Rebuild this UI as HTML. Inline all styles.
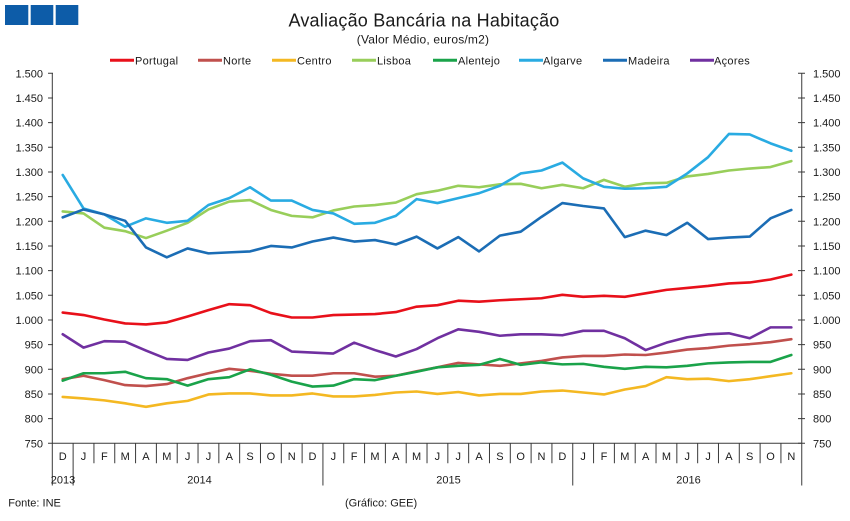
<!DOCTYPE html>
<html><head><meta charset="utf-8"><style>
html,body{margin:0;padding:0;background:#fff;}
svg{display:block;}
text{font-family:"Liberation Sans",Arial,sans-serif;fill:#1a1a1a;}
.ax{font-size:11px;}
.ln{fill:none;stroke-width:2.6;stroke-linejoin:round;stroke-linecap:round;vector-effect:non-scaling-stroke;}
</style></head><body>
<svg width="850" height="521" viewBox="0 0 850 521" xmlns="http://www.w3.org/2000/svg">
<rect width="850" height="521" fill="#fff"/>
<!-- logo -->
<rect x="5" y="5" width="23.3" height="20" fill="#0D5CA8"/>
<rect x="30.7" y="5" width="22.6" height="20" fill="#0D5CA8"/>
<rect x="55.7" y="5" width="22.6" height="20" fill="#0D5CA8"/>
<!-- titles -->
<text x="424" y="26.7" font-size="18" text-anchor="middle" letter-spacing="0.2">Avaliação Bancária na Habitação</text>
<text x="423" y="43.3" font-size="12" text-anchor="middle" letter-spacing="0.2">(Valor Médio, euros/m2)</text>
<!-- legend -->
<g font-size="11" letter-spacing="0.3">
<line x1="110" y1="60.3" x2="134" y2="60.3" stroke="#E8101A" stroke-width="3"/><text x="135" y="64.5">Portugal</text>
<line x1="198" y1="60.3" x2="222" y2="60.3" stroke="#C0504D" stroke-width="3"/><text x="223" y="64.5">Norte</text>
<line x1="272" y1="60.3" x2="296" y2="60.3" stroke="#F4B822" stroke-width="3"/><text x="297" y="64.5">Centro</text>
<line x1="352" y1="60.3" x2="376" y2="60.3" stroke="#98CE5A" stroke-width="3"/><text x="377" y="64.5">Lisboa</text>
<line x1="433" y1="60.3" x2="457" y2="60.3" stroke="#1AA34A" stroke-width="3"/><text x="458" y="64.5">Alentejo</text>
<line x1="519" y1="60.3" x2="543" y2="60.3" stroke="#29ABE2" stroke-width="3"/><text x="543" y="64.5">Algarve</text>
<line x1="603" y1="60.3" x2="627" y2="60.3" stroke="#1B6DB5" stroke-width="3"/><text x="628" y="64.5">Madeira</text>
<line x1="690" y1="60.3" x2="714" y2="60.3" stroke="#7030A0" stroke-width="3"/><text x="714" y="64.5">Açores</text>
</g>
<!-- axes -->
<g stroke="#3a3a3a" stroke-width="1" fill="none">
<path d="M52.3,73.3V485.5M801.75,73.3V485.5M52.3,443.3H801.75"/>
<path d="M48,73.3H53M48,98H53M48,122.6H53M48,147.3H53M48,172H53M48,196.6H53M48,221.3H53M48,246H53M48,270.6H53M48,295.3H53M48,320H53M48,344.6H53M48,369.3H53M48,394H53M48,418.6H53M48,443.3H53"/>
<path d="M798,73.3H805M798,98H805M798,122.6H805M798,147.3H805M798,172H805M798,196.6H805M798,221.3H805M798,246H805M798,270.6H805M798,295.3H805M798,320H805M798,344.6H805M798,369.3H805M798,394H805M798,418.6H805M798,443.3H805"/>
<path d="M73.12,443.3V485.5M322.93,443.3V485.5M572.75,443.3V485.5"/>
<path d="M93.94,443.3V463.3M114.75,443.3V463.3M135.57,443.3V463.3M156.39,443.3V463.3M177.21,443.3V463.3M198.03,443.3V463.3M218.84,443.3V463.3M239.66,443.3V463.3M260.48,443.3V463.3M281.3,443.3V463.3M302.12,443.3V463.3M343.75,443.3V463.3M364.57,443.3V463.3M385.39,443.3V463.3M406.21,443.3V463.3M427.02,443.3V463.3M447.84,443.3V463.3M468.66,443.3V463.3M489.48,443.3V463.3M510.3,443.3V463.3M531.11,443.3V463.3M551.93,443.3V463.3M593.57,443.3V463.3M614.39,443.3V463.3M635.2,443.3V463.3M656.02,443.3V463.3M676.84,443.3V463.3M697.66,443.3V463.3M718.48,443.3V463.3M739.29,443.3V463.3M760.11,443.3V463.3M780.93,443.3V463.3"/>
</g>
<!-- y labels left -->
<g class="ax" text-anchor="end">
<text x="43" y="77.3">1.500</text><text x="43" y="102">1.450</text><text x="43" y="126.6">1.400</text><text x="43" y="151.3">1.350</text>
<text x="43" y="176">1.300</text><text x="43" y="200.6">1.250</text><text x="43" y="225.3">1.200</text><text x="43" y="250">1.150</text>
<text x="43" y="274.6">1.100</text><text x="43" y="299.3">1.050</text><text x="43" y="324">1.000</text><text x="43" y="348.6">950</text>
<text x="43" y="373.3">900</text><text x="43" y="398">850</text><text x="43" y="422.6">800</text><text x="43" y="447.3">750</text>
</g>
<!-- y labels right -->
<g class="ax" text-anchor="start">
<text x="813" y="77.3">1.500</text><text x="813" y="102">1.450</text><text x="813" y="126.6">1.400</text><text x="813" y="151.3">1.350</text>
<text x="813" y="176">1.300</text><text x="813" y="200.6">1.250</text><text x="813" y="225.3">1.200</text><text x="813" y="250">1.150</text>
<text x="813" y="274.6">1.100</text><text x="813" y="299.3">1.050</text><text x="813" y="324">1.000</text><text x="813" y="348.6">950</text>
<text x="813" y="373.3">900</text><text x="813" y="398">850</text><text x="813" y="422.6">800</text><text x="813" y="447.3">750</text>
</g>
<!-- category labels -->
<g class="ax" text-anchor="middle">
<text x="62.71" y="460">D</text>
<text x="83.53" y="460">J</text><text x="104.35" y="460">F</text><text x="125.16" y="460">M</text><text x="145.98" y="460">A</text><text x="166.8" y="460">M</text><text x="187.62" y="460">J</text><text x="208.44" y="460">J</text><text x="229.25" y="460">A</text><text x="250.07" y="460">S</text><text x="270.89" y="460">O</text><text x="291.71" y="460">N</text><text x="312.53" y="460">D</text>
<text x="333.34" y="460">J</text><text x="354.16" y="460">F</text><text x="374.98" y="460">M</text><text x="395.8" y="460">A</text><text x="416.62" y="460">M</text><text x="437.43" y="460">J</text><text x="458.25" y="460">J</text><text x="479.07" y="460">A</text><text x="499.89" y="460">S</text><text x="520.71" y="460">O</text><text x="541.52" y="460">N</text><text x="562.34" y="460">D</text>
<text x="583.16" y="460">J</text><text x="603.98" y="460">F</text><text x="624.8" y="460">M</text><text x="645.61" y="460">A</text><text x="666.43" y="460">M</text><text x="687.25" y="460">J</text><text x="708.07" y="460">J</text><text x="728.89" y="460">A</text><text x="749.7" y="460">S</text><text x="770.52" y="460">O</text><text x="791.34" y="460">N</text>
<text x="63" y="483.5">2013</text><text x="199.5" y="483.5">2014</text><text x="448.5" y="483.5">2015</text><text x="688.5" y="483.5">2016</text>
</g>
<!-- footer -->
<text x="8.3" y="506.5" font-size="11">Fonte: INE</text>
<text x="345" y="506.5" font-size="11">(Gráfico: GEE)</text>
<!-- data -->
<g transform="translate(62.71,813.3) scale(20.818,-0.49333)">
<polyline class="ln" stroke="#E8101A" points="0,1015 1,1010 2,1001 3,993 4,991 5,995 6,1007 7,1020 8,1032 9,1030 10,1014 11,1005 12,1005 13,1010 14,1011 15,1012 16,1016 17,1027 18,1030 19,1039 20,1037 21,1040 22,1042 23,1044 24,1051 25,1047 26,1049 27,1047 28,1054 29,1061 30,1065 31,1069 32,1074 33,1076 34,1082 35,1092"/>
<polyline class="ln" stroke="#C0504D" points="0,880 1,887 2,878 3,868 4,866 5,870 6,882 7,892 8,901 9,897 10,891 11,887 12,887 13,892 14,892 15,885 16,887 17,896 18,904 19,913 20,910 21,907 22,912 23,917 24,924 25,927 26,927 27,930 28,929 29,934 30,940 31,943 32,948 33,951 34,955 35,961"/>
<polyline class="ln" stroke="#F4B822" points="0,844 1,841 2,837 3,831 4,824 5,831 6,836 7,849 8,851 9,851 10,847 11,847 12,851 13,845 14,845 15,848 16,853 17,855 18,850 19,854 20,847 21,850 22,850 23,855 24,857 25,853 26,849 27,859 28,866 29,884 30,880 31,881 32,876 33,880 34,886 35,892"/>
<polyline class="ln" stroke="#98CE5A" points="0,1220 1,1216 2,1187 3,1180 4,1166 5,1181 6,1197 7,1224 8,1240 9,1243 10,1223 11,1211 12,1208 13,1222 14,1230 15,1233 16,1238 17,1255 18,1262 19,1272 20,1269 21,1275 22,1276 23,1267 24,1274 25,1267 26,1284 27,1270 28,1277 29,1278 30,1291 31,1296 32,1303 33,1307 34,1310 35,1322"/>
<polyline class="ln" stroke="#1AA34A" points="0,877 1,892 2,892 3,895 4,882 5,880 6,867 7,880 8,884 9,900 10,889 11,875 12,865 13,867 14,880 15,878 16,887 17,895 18,904 19,907 20,909 21,921 22,909 23,914 24,910 25,911 26,905 27,901 28,905 29,904 30,907 31,912 32,914 33,915 34,915 35,929"/>
<polyline class="ln" stroke="#29ABE2" points="0,1294 1,1226 2,1214 3,1189 4,1206 5,1197 6,1201 7,1233 8,1247 9,1269 10,1242 11,1242 12,1223 13,1216 14,1195 15,1197 16,1211 17,1245 18,1237 19,1247 20,1257 21,1272 22,1297 23,1303 24,1319 25,1287 26,1270 27,1266 28,1267 29,1270 30,1297 31,1330 32,1377 33,1376 34,1358 35,1343"/>
<polyline class="ln" stroke="#1B6DB5" points="0,1208 1,1224 2,1214 3,1201 4,1147 5,1127 6,1145 7,1135 8,1137 9,1139 10,1150 11,1147 12,1159 13,1167 14,1159 15,1162 16,1153 17,1169 18,1145 19,1168 20,1139 21,1171 22,1179 23,1209 24,1237 25,1231 26,1226 27,1168 28,1181 29,1172 30,1197 31,1164 32,1167 33,1169 34,1206 35,1223"/>
<polyline class="ln" stroke="#7030A0" points="0,971 1,944 2,957 3,956 4,938 5,921 6,919 7,934 8,942 9,957 10,959 11,936 12,934 13,932 14,954 15,939 16,926 17,941 18,963 19,981 20,976 21,968 22,971 23,971 24,969 25,978 26,978 27,963 28,939 29,954 30,965 31,971 32,973 33,963 34,985 35,985"/>
</g>
</svg>
</body></html>
